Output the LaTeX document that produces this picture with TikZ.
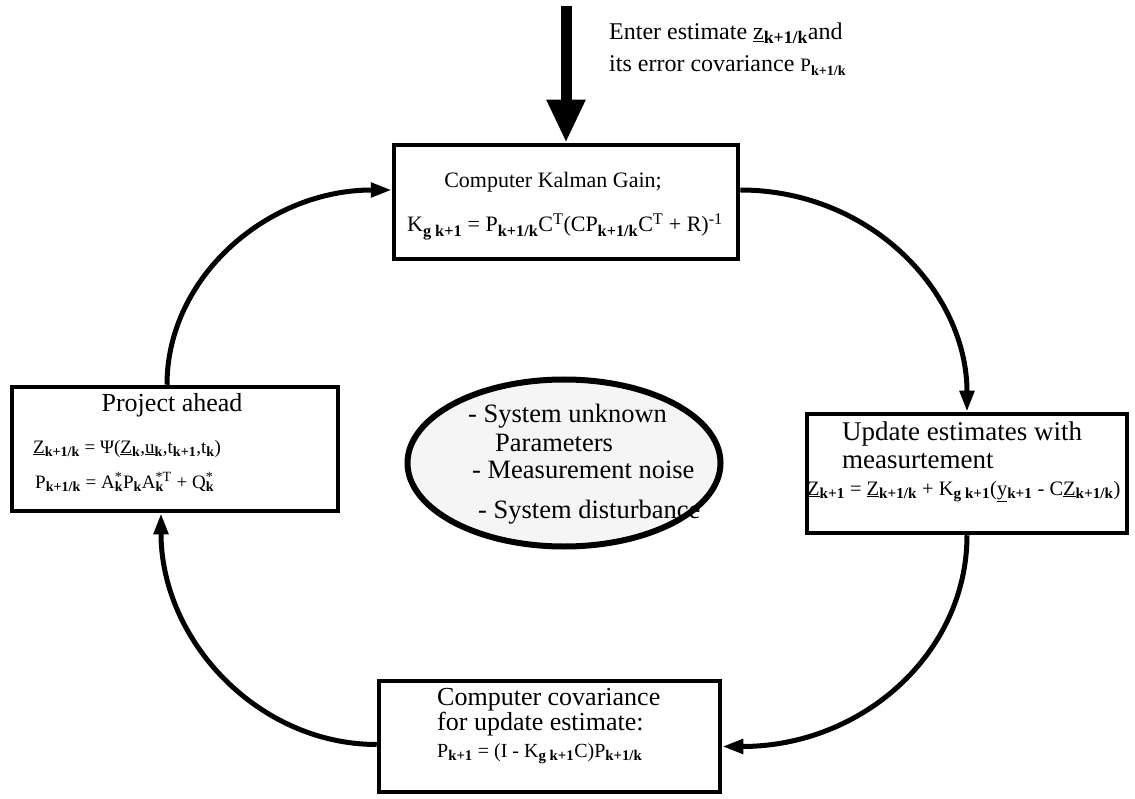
\documentclass[tikz,border=0pt]{standalone}
\usepackage{fontspec}
\setmainfont{Liberation Serif}
\usetikzlibrary{arrows.meta,shapes.geometric}
\renewcommand\defaultscriptratio{.74}
\newcommand\sbb[1]{\textsubscript{\bfseries #1}}
\newcommand\spp[1]{\textsuperscript{#1}}
\newcommand\stk[2]{\leavevmode\setbox0=\hbox{\textsuperscript{#1}}\setbox2=\hbox{\textsubscript{\bfseries #2}}\ifdim\wd0>\wd2 \rlap{\box2}\box0\else\rlap{\box0}\box2\fi}
\newcommand\fs[1]{\fontsize{#1}{#1}\selectfont}
\begin{document}
\begin{tikzpicture}[x=1pt,y=-1pt,
  box/.style={draw, line width=4.5pt, rectangle, inner sep=0pt},
  conn/.style={line width=5pt, -{Triangle[length=21pt,width=14pt]}},
  txt/.style={anchor=base west, inner sep=0pt},
  ctxt/.style={anchor=base, inner sep=0pt}]
\useasboundingbox (0,0) rectangle (1135,799);

% boxes
\node[box, minimum width=344pt, minimum height=114pt] (kal) at (566,202) {};
\node[box, minimum width=326pt, minimum height=124pt] (proj) at (175,449) {};
\node[box, minimum width=320pt, minimum height=119pt] (upd) at (967,473.5) {};
\node[box, minimum width=341pt, minimum height=111pt] (cov) at (549.5,736.5) {};
\node[draw, ellipse, line width=6pt, fill=black!4, minimum width=313pt, minimum height=167pt, inner sep=0pt] (ell) at (564,463) {};

% big input arrow
\coordinate (src) at (566,6);
\draw[line width=11pt, -{Triangle[length=43pt,width=36pt]}] (src) -- (kal.north);

% input text
\node[txt, font=\fs{24}] (ent1) at (609,40) {Enter estimate \underline{z}\sbb{k+1/k}and};
\node[txt, font=\fs{24}] (ent2) at (609,72) {its error covariance {\fs{19}P\sbb{k+1/k}}};

% top box text
\node[ctxt, font=\fs{22}] (kt1) at (553,188) {Computer Kalman Gain;};
\node[ctxt, font=\fs{22}] (kt2) at (565,232) {K\sbb{g k+1} = P\sbb{k+1/k}C\spp{T}(CP\sbb{k+1/k}C\spp{T} + R)\spp{-1}};

% left box text
\node[ctxt, font=\fs{26}] (pt1) at (172,411) {Project ahead};
\node[txt, font=\fs{19}] (pt2) at (33,453) {\underline{Z}\sbb{k+1/k} = Ψ(\underline{Z}\sbb{k},\underline{u}\sbb{k},t\sbb{k+1},t\sbb{k})};
\node[txt, font=\fs{19}] (pt3) at (35,488) {P\sbb{k+1/k} = A\stk{*}{k}P\sbb{k}A\stk{*T}{k}\ + Q\stk{*}{k}};

% right box text
\node[txt, font=\fs{27}] (ut1) at (842,440) {Update estimates with};
\node[txt, font=\fs{27}] (ut2) at (842,468) {measurtement};
\node[txt, font=\fs{20.5}] (ut3) at (807,495) {\underline{Z}\sbb{k+1} = \underline{Z}\sbb{k+1/k} + K\sbb{g k+1}(\underline{y}\sbb{k+1} - C\underline{Z}\sbb{k+1/k})};

% bottom box text
\node[txt, font=\fs{26}] (ct1) at (437,705) {Computer covariance};
\node[txt, font=\fs{26}] (ct2) at (437,730) {for update estimate:};
\node[txt, font=\fs{20}] (ct3) at (437,757) {P\sbb{k+1} = (I - K\sbb{g k+1}C)P\sbb{k+1/k}};

% ellipse text
\node[txt, font=\fs{26.5}] (e1) at (468,422) {- System unknown};
\node[txt, font=\fs{26.5}] (e2) at (495,451) {Parameters};
\node[txt, font=\fs{26.5}] (e3) at (472,478) {- Measurement noise};
\node[txt, font=\fs{26.5}] (e4) at (478,518) {- System disturbance};

% cycle connectors
\draw[conn] ([yshift=12pt]kal.east) .. controls +(130,0) and +(0,-120) .. (upd.north);
\draw[conn] (upd.south) .. controls +(0,118) and +(140,0) .. ([yshift=-10pt]cov.east);
\draw[conn] ([yshift=-8pt]cov.west) .. controls +(-118,0) and +(0,128) .. ([xshift=-14pt]proj.south);
\draw[conn] ([xshift=-8pt]proj.north) .. controls +(0,-108) and +(-124,0) .. ([yshift=12pt]kal.west);
\end{tikzpicture}
\end{document}
